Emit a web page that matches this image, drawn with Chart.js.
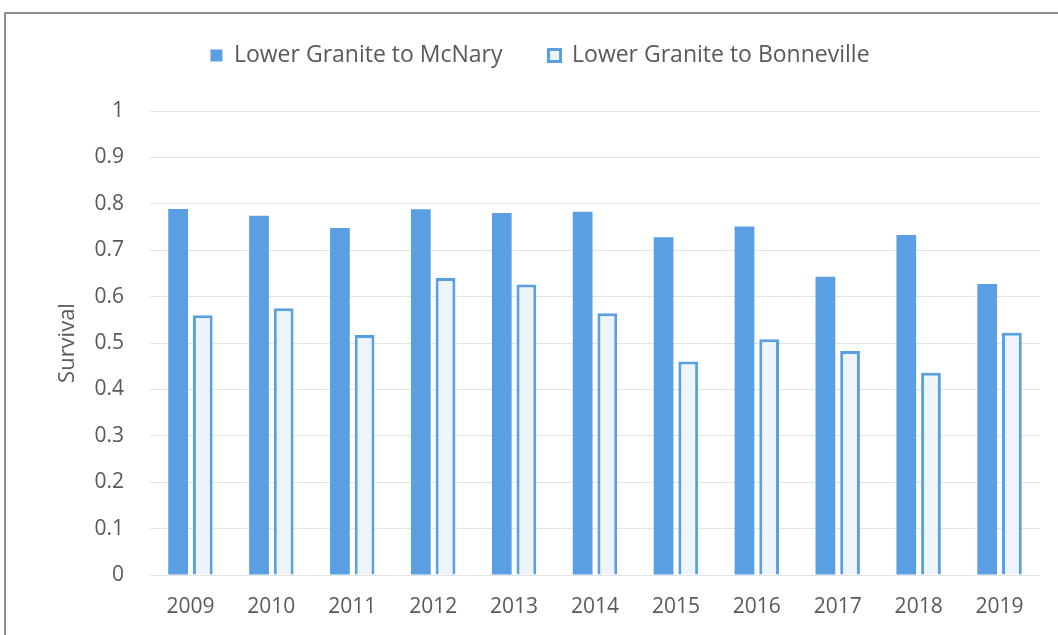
<!DOCTYPE html>
<html>
<head>
<meta charset="utf-8">
<script src="https://cdn.jsdelivr.net/npm/chart.js@4"></script>
<style>
  html, body { margin: 0; padding: 0; background: #fff; }
  #wrap { position: relative; width: 1058px; height: 635px; overflow: hidden; }
  #frame { position: absolute; left: 4px; top: 12px; width: 1100px; height: 700px;
           border-top: 2px solid #8f8f8f; border-left: 2px solid #8f8f8f; }
  #chart { position: absolute; left: 0; top: 0; }
</style>
</head>
<body>
<div id="wrap">
  <div id="frame"></div>
  <canvas id="chart" width="1058" height="635"></canvas>
</div>
<script>
// values
const years = ['2009', '2010', '2011', '2012', '2013', '2014', '2015', '2016', '2017', '2018', '2019'];
const toMcNary = [0.789, 0.774, 0.748, 0.788, 0.780, 0.783, 0.728, 0.751, 0.643, 0.733, 0.627];
const toBonneville = [0.560, 0.575, 0.517, 0.640, 0.626, 0.564, 0.460, 0.508, 0.483, 0.436, 0.522];
const yTicks = [0, 0.1, 0.2, 0.3, 0.4, 0.5, 0.6, 0.7, 0.8, 0.9, 1];

const blue = '#5a9fe2';
const textGray = '#595959';
const fontFamily = '"Open Sans", "Liberation Sans", sans-serif';

// force the legend block height so the plot area starts where the reference does
const legendHeight = {
    id: 'legendHeight',
    beforeInit(chart) {
        const fit = chart.legend.fit;
        chart.legend.fit = function() {
            fit.bind(chart.legend)();
            this.height = 113;
        };
    }
};

new Chart(document.getElementById('chart'), {
    type: 'bar',
    data: {
        labels: years,
        datasets: [
            {
                label: 'Lower Granite to McNary',
                data: toMcNary,
                backgroundColor: blue,
                borderWidth: 0,
                barPercentage: 0.8,
                categoryPercentage: 0.61
            },
            {
                label: 'Lower Granite to Bonneville',
                data: toBonneville,
                backgroundColor: '#eef4fb',
                borderColor: blue,
                borderWidth: 3,
                barPercentage: 0.8,
                categoryPercentage: 0.61
            }
        ]
    },
    plugins: [legendHeight],
    options: {
        responsive: false,
        animation: false,
        layout: { padding: { left: 40, right: 18, top: -2, bottom: 0 } },
        plugins: {
            tooltip: { enabled: false },
            legend: {
                position: 'top',
                labels: {
                    color: textGray,
                    font: { family: fontFamily, size: 23 },
                    boxWidth: 12,
                    boxHeight: 12,
                    padding: 46
                }
            }
        },
        scales: {
            x: {
                grid: { display: false, drawTicks: false },
                border: { display: false },
                ticks: { color: textGray, font: { family: fontFamily, size: 21 }, padding: 19 },
                afterFit(axis) { axis.height = 60; }
            },
            y: {
                min: 0,
                max: 1,
                afterBuildTicks(axis) { axis.ticks = yTicks.map(v => ({ value: v })); },
                grid: { color: '#e3e3e3', lineWidth: 1, drawTicks: false },
                border: { display: false },
                ticks: {
                    color: textGray,
                    font: { family: fontFamily, size: 21 },
                    padding: 26,
                    callback: v => String(+v.toFixed(1))
                },
                title: {
                    display: true,
                    text: 'Survival',
                    color: textGray,
                    font: { family: fontFamily, size: 22 },
                    padding: { top: 15, bottom: 0 }
                },
                afterFit(axis) { axis.width = 110; }
            }
        }
    }
});
</script>
</body>
</html>
